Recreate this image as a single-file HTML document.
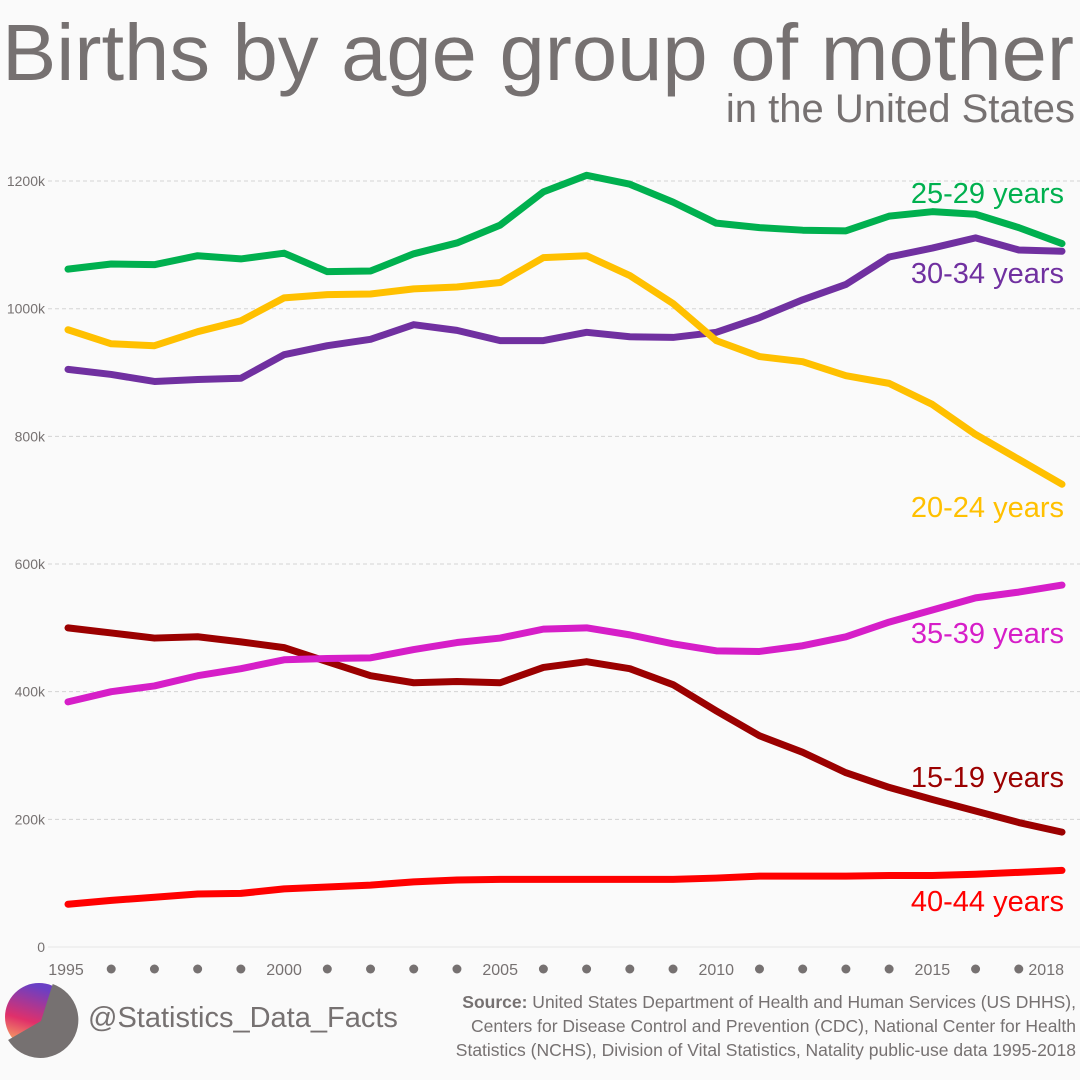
<!DOCTYPE html>
<html><head><meta charset="utf-8"><style>
html,body{margin:0;padding:0;background:#fafafa}
svg{display:block;font-family:"Liberation Sans",sans-serif}
</style></head><body>
<svg id="chart" width="1080" height="1080" viewBox="0 0 1080 1080">
<rect width="1080" height="1080" fill="#fafafa"/>
<text x="2" y="80" font-size="80" fill="#767171" textLength="1072" lengthAdjust="spacingAndGlyphs">Births by age group of mother</text>
<text x="1075" y="122" font-size="40" fill="#767171" text-anchor="end">in the United States</text>
<g id="grid"></g>
<g id="series"></g>
<g id="xaxis"></g>
<g>
<defs><linearGradient id="ig" x1="0.3" y1="0" x2="0" y2="1"><stop offset="0" stop-color="#6a3fc4"/><stop offset="0.5" stop-color="#e0306a"/><stop offset="1" stop-color="#ffd760"/></linearGradient></defs>
<circle cx="39" cy="1017" r="34" fill="url(#ig)"/>
<path d="M41,1021 L52.7,984 A38,38 0 1,1 8.1,1040 Z" fill="#767171"/>
</g>
<text x="88" y="1027" font-size="29" fill="#767171">@Statistics_Data_Facts</text>
<g font-size="17.5" fill="#767171" text-anchor="end">
<text x="1076" y="1008"><tspan font-weight="bold">Source:</tspan> United States Department of Health and Human Services (US DHHS),</text>
<text x="1076" y="1032">Centers for Disease Control and Prevention (CDC), National Center for Health</text>
<text x="1076" y="1056">Statistics (NCHS), Division of Vital Statistics, Natality public-use data 1995-2018</text>
</g>
</svg>
<script>
const years=[1995,1996,1997,1998,1999,2000,2001,2002,2003,2004,2005,2006,2007,2008,2009,2010,2011,2012,2013,2014,2015,2016,2017,2018];
const yTicks=[0,200,400,600,800,1000,1200];
const age2529=[1062,1070,1069,1083,1078,1087,1058,1059,1086,1103,1131,1183,1209,1195,1167,1134,1127,1123,1122,1145,1152,1148,1127,1102];
const age2024=[967,945,942,964,981,1017,1022,1023,1031,1034,1041,1080,1083,1052,1008,950,925,917,895,883,850,803,764,725];
const age3034=[905,897,886,889,891,928,942,952,975,966,950,950,963,956,955,963,986,1014,1038,1081,1095,1111,1092,1090];
const age3539=[384,400,409,425,436,450,452,453,466,477,484,498,500,489,475,464,463,472,486,509,528,547,556,567];
const age1519=[500,492,484,486,478,469,447,425,414,416,414,438,447,436,411,370,331,305,273,250,231,213,195,180];
const age4044=[67,73,78,83,84,91,94,97,102,105,106,106,106,106,106,108,111,111,111,112,112,114,117,120];
const seriesNames=["25-29 years","30-34 years","20-24 years","35-39 years","15-19 years","40-44 years"];
const labelY=[203,283,517,643,787,911];
const NS="http://www.w3.org/2000/svg";
const X=y=>68+(y-1995)*(994/23);
const Y=v=>947-v*0.6383;
function mk(t,a,p){const e=document.createElementNS(NS,t);for(const k in a)e.setAttribute(k,a[k]);p.appendChild(e);return e;}
const grid=document.getElementById('grid');
yTicks.forEach(t=>{
  const l=mk('line',{x1:48,x2:1080,y1:Y(t),y2:Y(t),stroke:t===0?'#e6e6e6':'#d4d4d4','stroke-width':1,'stroke-dasharray':t===0?'':'4 3'},grid);
  
  
  const tx=mk('text',{x:45,y:Y(t)+5,'font-size':14,fill:'#767171','text-anchor':'end'},grid);
  tx.textContent=t===0?'0':t+'k';
  
  
});
const xa=document.getElementById('xaxis');
years.forEach(y=>{
  if(y%5===0||y===2018){
    const tx=mk('text',{x:y===1995?X(y)-2:X(y),y:975,'font-size':16,fill:'#767171','text-anchor':y===2018?'end':'middle'},xa);
    if(y===2018)tx.setAttribute('x',X(y)+2);
    tx.textContent=y;
    
    
  } else {
    const c=mk('circle',{cx:X(y),cy:969,r:4.5,fill:'#767171'},xa);
    
    
  }
});
const sg=document.getElementById('series');
const data=[age4044,age1519,age3539,age3034,age2024,age2529];
const cols=['#ff0000','#9b0000','#d61ec8','#7030a0','#ffc000','#00b04f'];
const nameIdx=[5,4,3,1,2,0];
data.forEach((d,i)=>{
  const p=mk('polyline',{points:d.map((v,j)=>X(years[j])+','+Y(v)).join(' '),fill:'none',stroke:cols[i],'stroke-width':7,'stroke-linejoin':'round','stroke-linecap':'round'},sg);
  
  
  const t=mk('text',{x:1064,y:labelY[nameIdx[i]],'font-size':29,fill:cols[i],'text-anchor':'end'},sg);
  t.textContent=seriesNames[nameIdx[i]];
  
  
});
</script>
</body></html>
